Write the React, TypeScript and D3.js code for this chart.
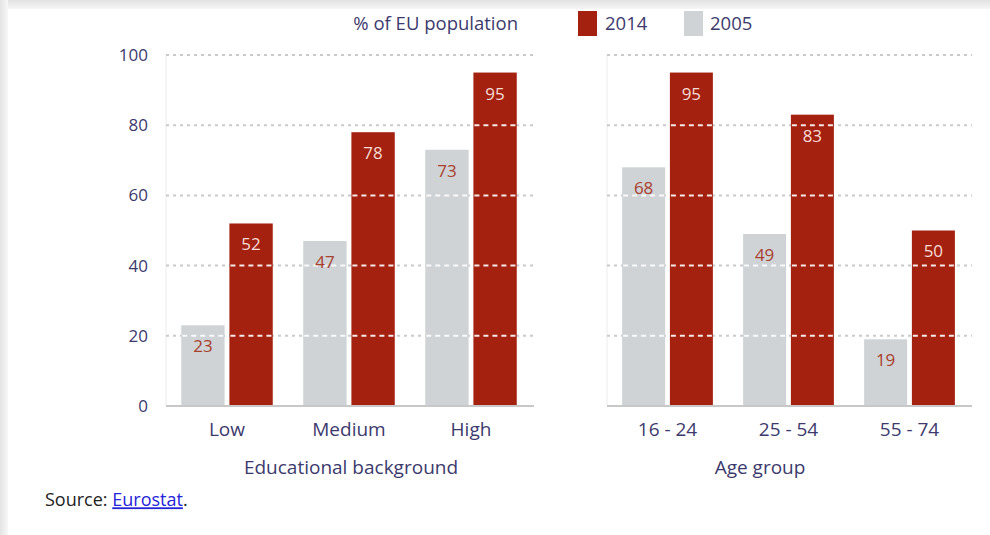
import React from "react";
import * as d3 from "d3";

const eduCategories = ["Low", "Medium", "High"];
const edu2005 = [23, 47, 73];
const edu2014 = [52, 78, 95];
const ageCategories = ["16 - 24", "25 - 54", "55 - 74"];
const age2005 = [68, 49, 19];
const age2014 = [95, 83, 50];
const yTicks = [0, 20, 40, 60, 80, 100];
const seriesNames = ["2005", "2014"];

const W = 990;
const H = 535;
const RED = "#a4200f";
const GRAY = "#cfd3d5";
const TXT = "#3c3a6c";
const FONT = "'Open Sans', 'Noto Sans', sans-serif";

const y = d3.scaleLinear().domain([0, 100]).range([406, 55]);

type PanelProps = {
  x0: number;
  x1: number;
  cats: string[];
  v2005: number[];
  v2014: number[];
  title: string;
  titleX: number;
  showAxis: boolean;
};

function Panel({ x0, x1, cats, v2005, v2014, title, titleX, showAxis }: PanelProps) {
  const xb = d3.scaleBand<string>().domain(cats).range([x0, x1]).paddingInner(0.25).paddingOuter(0.125);
  const xs = d3.scaleBand<string>().domain(seriesNames).range([0, xb.bandwidth()]).paddingInner(0.1);
  const grid = yTicks.filter((t) => t > 0);
  const bars: { cat: string; s: string; v: number }[] = [];
  cats.forEach((c, i) => {
    bars.push({ cat: c, s: "2005", v: v2005[i] });
    bars.push({ cat: c, s: "2014", v: v2014[i] });
  });
  return (
    <g>
      <line x1={x0} x2={x0} y1={y(100)} y2={y(0)} stroke="#ececec" strokeWidth={1} />
      {grid.map((t) => (
        <line key={t} x1={x0} x2={x1 + 2} y1={y(t)} y2={y(t)} stroke="#cacaca" strokeWidth={2} strokeDasharray="3,4" />
      ))}
      {showAxis &&
        yTicks.map((t) => (
          <text key={t} x={148} y={y(t)} dy="0.35em" textAnchor="end" fontSize={17} fill={TXT} fontFamily={FONT}>
            {t}
          </text>
        ))}
      {bars.map((b) => {
        const bx = (xb(b.cat) as number) + (xs(b.s) as number);
        const bw = xs.bandwidth();
        const top = y(b.v);
        const isRed = b.s === "2014";
        return (
          <g key={b.cat + b.s}>
            <rect x={bx} y={top} width={bw} height={y(0) - top} fill={isRed ? RED : GRAY} />
            {grid
              .filter((t) => t < b.v - 1)
              .map((t) => (
                <line key={t} x1={bx + 1} x2={bx + bw} y1={y(t)} y2={y(t)} stroke="#ffffff" strokeWidth={2} strokeDasharray="5,4" opacity={0.9} />
              ))}
            <text
              x={bx + bw / 2}
              y={top + 21}
              dy="0.35em"
              textAnchor="middle"
              fontSize={17}
              fill={isRed ? "#f6ddd6" : "#a8402f"}
              fontFamily={FONT}
            >
              {b.v}
            </text>
          </g>
        );
      })}
      <line x1={x0} x2={x1 + 2} y1={y(0)} y2={y(0)} stroke="#c8c8c8" strokeWidth={2} />
      {cats.map((c) => (
        <text
          key={c}
          x={(xb(c) as number) + xb.bandwidth() / 2}
          y={429}
          dy="0.35em"
          textAnchor="middle"
          fontSize={19}
          fill={TXT}
          fontFamily={FONT}
        >
          {c}
        </text>
      ))}
      <text x={titleX} y={467} dy="0.35em" textAnchor="middle" fontSize={19} fill={TXT} fontFamily={FONT}>
        {title}
      </text>
    </g>
  );
}

export default function App() {
  return (
    <svg width={W} height={H} style={{ position: "absolute", left: 0, top: 0, background: "#ffffff" }}>
      <defs>
        <linearGradient id="topband" x1="0" y1="0" x2="0" y2="1">
          <stop offset="0%" stopColor="#e2e2e2" />
          <stop offset="100%" stopColor="#f6f6f6" />
        </linearGradient>
        <linearGradient id="leftband" x1="0" y1="0" x2="1" y2="0">
          <stop offset="0%" stopColor="#e4e4e4" />
          <stop offset="100%" stopColor="#f7f7f7" />
        </linearGradient>
      </defs>
      <rect x={0} y={0} width={W} height={H} fill="#ffffff" />
      <rect x={0} y={0} width={W} height={9} fill="url(#topband)" />
      <rect x={0} y={0} width={8} height={H} fill="url(#leftband)" />

      <text x={518} y={24} dy="0.35em" textAnchor="end" fontSize={18.5} fill={TXT} fontFamily={FONT}>
        % of EU population
      </text>
      <rect x={578} y={11} width={19} height={25} fill={RED} />
      <text x={605} y={24} dy="0.35em" fontSize={18.5} fill={TXT} fontFamily={FONT}>
        2014
      </text>
      <rect x={684} y={11} width={19} height={25} fill={GRAY} />
      <text x={710} y={24} dy="0.35em" fontSize={18.5} fill={TXT} fontFamily={FONT}>
        2005
      </text>

      <Panel x0={166} x1={532} cats={eduCategories} v2005={edu2005} v2014={edu2014} title="Educational background" titleX={351} showAxis={true} />
      <Panel x0={607} x1={970} cats={ageCategories} v2005={age2005} v2014={age2014} title="Age group" titleX={760} showAxis={false} />

      <text x={45} y={500} dy="0.35em" fontSize={18} fill="#222222" fontFamily={FONT}>
        Source:{" "}
        <tspan fill="#2424d8" textDecoration="underline">
          Eurostat
        </tspan>
        .
      </text>
    </svg>
  );
}
